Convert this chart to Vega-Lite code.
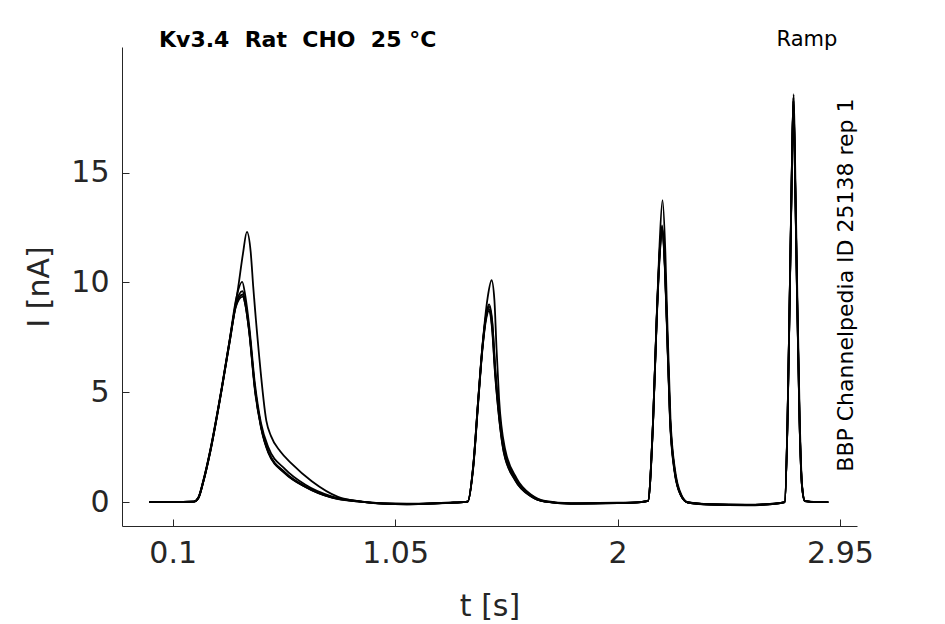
{
  "$schema": "https://vega.github.io/schema/vega-lite/v6.json",
  "width": 735,
  "height": 479,
  "autosize": {"type": "none"},
  "padding": {"left": 122, "top": 47, "right": 88, "bottom": 98},
  "background": "white",
  "config": {"view": {"stroke": null}, "font": "DejaVu Sans"},
  "data": {
    "values": [
      {"s": "a", "t": 0, "i": 0}, {"s": "a", "t": 0.1, "i": 0}, {"s": "a", "t": 0.19, "i": 0.02}, {"s": "a", "t": 0.21, "i": 0.2},
      {"s": "a", "t": 0.23, "i": 0.9}, {"s": "a", "t": 0.26, "i": 2.3}, {"s": "a", "t": 0.31, "i": 5.2}, {"s": "a", "t": 0.345, "i": 7.5},
      {"s": "a", "t": 0.38, "i": 9.8}, {"s": "a", "t": 0.4, "i": 11.3}, {"s": "a", "t": 0.417, "i": 12.3}, {"s": "a", "t": 0.433, "i": 11.4},
      {"s": "a", "t": 0.444, "i": 9.8}, {"s": "a", "t": 0.468, "i": 6.8}, {"s": "a", "t": 0.5, "i": 3.7}, {"s": "a", "t": 0.52, "i": 3.0},
      {"s": "a", "t": 0.56, "i": 2.3}, {"s": "a", "t": 0.608, "i": 1.75}, {"s": "a", "t": 0.694, "i": 0.95}, {"s": "a", "t": 0.806, "i": 0.24}, {"s": "a", "t": 0.9, "i": 0.03},
      {"s": "a", "t": 1.0, "i": -0.05}, {"s": "a", "t": 1.1, "i": -0.07}, {"s": "a", "t": 1.2, "i": -0.05}, {"s": "a", "t": 1.3, "i": -0.02},
      {"s": "a", "t": 1.36, "i": 0.02}, {"s": "a", "t": 1.384, "i": 1.7}, {"s": "a", "t": 1.405, "i": 4.7}, {"s": "a", "t": 1.422, "i": 7.0},
      {"s": "a", "t": 1.445, "i": 9.3}, {"s": "a", "t": 1.462, "i": 10.1}, {"s": "a", "t": 1.474, "i": 9.2}, {"s": "a", "t": 1.483, "i": 7.0},
      {"s": "a", "t": 1.494, "i": 4.7}, {"s": "a", "t": 1.519, "i": 2.44}, {"s": "a", "t": 1.569, "i": 1.08}, {"s": "a", "t": 1.633, "i": 0.32},
      {"s": "a", "t": 1.69, "i": 0.05}, {"s": "a", "t": 1.8, "i": -0.05}, {"s": "a", "t": 2.0, "i": -0.03}, {"s": "a", "t": 2.1, "i": 0},
      {"s": "a", "t": 2.13, "i": 0.05}, {"s": "a", "t": 2.152, "i": 3.8}, {"s": "a", "t": 2.167, "i": 8.4}, {"s": "a", "t": 2.178, "i": 11.4},
      {"s": "a", "t": 2.192, "i": 13.75}, {"s": "a", "t": 2.204, "i": 11.4}, {"s": "a", "t": 2.212, "i": 8.4}, {"s": "a", "t": 2.226, "i": 3.8},
      {"s": "a", "t": 2.245, "i": 1.5}, {"s": "a", "t": 2.273, "i": 0.32}, {"s": "a", "t": 2.3, "i": 0}, {"s": "a", "t": 2.4, "i": -0.1},
      {"s": "a", "t": 2.55, "i": -0.12}, {"s": "a", "t": 2.65, "i": -0.08}, {"s": "a", "t": 2.714, "i": 0}, {"s": "a", "t": 2.726, "i": 3.8},
      {"s": "a", "t": 2.736, "i": 9.9}, {"s": "a", "t": 2.743, "i": 14.4}, {"s": "a", "t": 2.752, "i": 18.57}, {"s": "a", "t": 2.76, "i": 14.4},
      {"s": "a", "t": 2.767, "i": 9.9}, {"s": "a", "t": 2.778, "i": 3.8}, {"s": "a", "t": 2.788, "i": 0.76}, {"s": "a", "t": 2.8, "i": 0.05},
      {"s": "a", "t": 2.85, "i": 0}, {"s": "a", "t": 2.9, "i": 0},

      {"s": "b", "t": 0, "i": 0}, {"s": "b", "t": 0.1, "i": 0}, {"s": "b", "t": 0.19, "i": 0.02}, {"s": "b", "t": 0.21, "i": 0.22},
      {"s": "b", "t": 0.23, "i": 0.95}, {"s": "b", "t": 0.26, "i": 2.35}, {"s": "b", "t": 0.31, "i": 5.25}, {"s": "b", "t": 0.345, "i": 7.5},
      {"s": "b", "t": 0.37, "i": 9.2}, {"s": "b", "t": 0.397, "i": 10.03}, {"s": "b", "t": 0.41, "i": 9.4}, {"s": "b", "t": 0.426, "i": 8.1},
      {"s": "b", "t": 0.451, "i": 5.4}, {"s": "b", "t": 0.477, "i": 3.6}, {"s": "b", "t": 0.508, "i": 2.5}, {"s": "b", "t": 0.58, "i": 1.5},
      {"s": "b", "t": 0.665, "i": 0.8}, {"s": "b", "t": 0.779, "i": 0.26}, {"s": "b", "t": 0.9, "i": 0.03}, {"s": "b", "t": 1.0, "i": -0.08},
      {"s": "b", "t": 1.1, "i": -0.1}, {"s": "b", "t": 1.2, "i": -0.08}, {"s": "b", "t": 1.3, "i": -0.03}, {"s": "b", "t": 1.36, "i": 0.02},
      {"s": "b", "t": 1.384, "i": 1.7}, {"s": "b", "t": 1.405, "i": 4.7}, {"s": "b", "t": 1.422, "i": 7.0}, {"s": "b", "t": 1.44, "i": 8.6},
      {"s": "b", "t": 1.451, "i": 9.0}, {"s": "b", "t": 1.465, "i": 8.2}, {"s": "b", "t": 1.478, "i": 6.0}, {"s": "b", "t": 1.49, "i": 4.5},
      {"s": "b", "t": 1.515, "i": 2.4}, {"s": "b", "t": 1.565, "i": 1.05}, {"s": "b", "t": 1.63, "i": 0.3}, {"s": "b", "t": 1.69, "i": 0.03},
      {"s": "b", "t": 1.8, "i": -0.08}, {"s": "b", "t": 2.0, "i": -0.05}, {"s": "b", "t": 2.1, "i": 0}, {"s": "b", "t": 2.13, "i": 0.05},
      {"s": "b", "t": 2.152, "i": 3.8}, {"s": "b", "t": 2.167, "i": 8.3}, {"s": "b", "t": 2.18, "i": 11.5}, {"s": "b", "t": 2.19, "i": 12.6},
      {"s": "b", "t": 2.2, "i": 11.3}, {"s": "b", "t": 2.21, "i": 8.4}, {"s": "b", "t": 2.224, "i": 3.9}, {"s": "b", "t": 2.243, "i": 1.5},
      {"s": "b", "t": 2.271, "i": 0.3}, {"s": "b", "t": 2.3, "i": -0.02}, {"s": "b", "t": 2.4, "i": -0.12}, {"s": "b", "t": 2.55, "i": -0.15},
      {"s": "b", "t": 2.65, "i": -0.1}, {"s": "b", "t": 2.714, "i": 0}, {"s": "b", "t": 2.726, "i": 3.8}, {"s": "b", "t": 2.736, "i": 9.9},
      {"s": "b", "t": 2.743, "i": 14.3}, {"s": "b", "t": 2.751, "i": 18.4}, {"s": "b", "t": 2.759, "i": 14.3}, {"s": "b", "t": 2.766, "i": 9.9},
      {"s": "b", "t": 2.777, "i": 3.8}, {"s": "b", "t": 2.788, "i": 0.7}, {"s": "b", "t": 2.8, "i": 0.04}, {"s": "b", "t": 2.85, "i": 0},
      {"s": "b", "t": 2.9, "i": 0},

      {"s": "c", "t": 0, "i": 0}, {"s": "c", "t": 0.1, "i": 0}, {"s": "c", "t": 0.19, "i": 0.02}, {"s": "c", "t": 0.21, "i": 0.2},
      {"s": "c", "t": 0.23, "i": 0.92}, {"s": "c", "t": 0.26, "i": 2.3}, {"s": "c", "t": 0.31, "i": 5.2}, {"s": "c", "t": 0.345, "i": 7.45},
      {"s": "c", "t": 0.37, "i": 9.0}, {"s": "c", "t": 0.398, "i": 9.6}, {"s": "c", "t": 0.41, "i": 9.1}, {"s": "c", "t": 0.426, "i": 7.9},
      {"s": "c", "t": 0.451, "i": 5.2}, {"s": "c", "t": 0.477, "i": 3.45}, {"s": "c", "t": 0.508, "i": 2.3}, {"s": "c", "t": 0.58, "i": 1.35},
      {"s": "c", "t": 0.665, "i": 0.72}, {"s": "c", "t": 0.779, "i": 0.22}, {"s": "c", "t": 0.9, "i": 0.02}, {"s": "c", "t": 1.0, "i": -0.07},
      {"s": "c", "t": 1.1, "i": -0.09}, {"s": "c", "t": 1.2, "i": -0.07}, {"s": "c", "t": 1.3, "i": -0.03}, {"s": "c", "t": 1.36, "i": 0.02},
      {"s": "c", "t": 1.384, "i": 1.65}, {"s": "c", "t": 1.405, "i": 4.6}, {"s": "c", "t": 1.422, "i": 6.9}, {"s": "c", "t": 1.44, "i": 8.5},
      {"s": "c", "t": 1.45, "i": 8.8}, {"s": "c", "t": 1.464, "i": 8.0}, {"s": "c", "t": 1.477, "i": 5.9}, {"s": "c", "t": 1.489, "i": 4.4},
      {"s": "c", "t": 1.514, "i": 2.3}, {"s": "c", "t": 1.563, "i": 1.0}, {"s": "c", "t": 1.628, "i": 0.28}, {"s": "c", "t": 1.69, "i": 0.02},
      {"s": "c", "t": 1.8, "i": -0.07}, {"s": "c", "t": 2.0, "i": -0.04}, {"s": "c", "t": 2.1, "i": 0}, {"s": "c", "t": 2.13, "i": 0.05},
      {"s": "c", "t": 2.152, "i": 3.75}, {"s": "c", "t": 2.167, "i": 8.3}, {"s": "c", "t": 2.18, "i": 11.3}, {"s": "c", "t": 2.19, "i": 12.45},
      {"s": "c", "t": 2.2, "i": 11.2}, {"s": "c", "t": 2.21, "i": 8.3}, {"s": "c", "t": 2.224, "i": 3.8}, {"s": "c", "t": 2.243, "i": 1.45},
      {"s": "c", "t": 2.271, "i": 0.3}, {"s": "c", "t": 2.3, "i": -0.02}, {"s": "c", "t": 2.4, "i": -0.11}, {"s": "c", "t": 2.55, "i": -0.14},
      {"s": "c", "t": 2.65, "i": -0.09}, {"s": "c", "t": 2.714, "i": 0}, {"s": "c", "t": 2.726, "i": 3.75}, {"s": "c", "t": 2.736, "i": 9.8},
      {"s": "c", "t": 2.743, "i": 14.2}, {"s": "c", "t": 2.751, "i": 18.3}, {"s": "c", "t": 2.759, "i": 14.2}, {"s": "c", "t": 2.766, "i": 9.8},
      {"s": "c", "t": 2.777, "i": 3.75}, {"s": "c", "t": 2.788, "i": 0.7}, {"s": "c", "t": 2.8, "i": 0.04}, {"s": "c", "t": 2.85, "i": 0},
      {"s": "c", "t": 2.9, "i": 0},

      {"s": "d", "t": 0, "i": 0}, {"s": "d", "t": 0.1, "i": 0}, {"s": "d", "t": 0.19, "i": 0.02}, {"s": "d", "t": 0.21, "i": 0.18},
      {"s": "d", "t": 0.23, "i": 0.88}, {"s": "d", "t": 0.26, "i": 2.25}, {"s": "d", "t": 0.31, "i": 5.15}, {"s": "d", "t": 0.345, "i": 7.4},
      {"s": "d", "t": 0.37, "i": 8.95}, {"s": "d", "t": 0.398, "i": 9.45}, {"s": "d", "t": 0.41, "i": 9.0}, {"s": "d", "t": 0.426, "i": 7.8},
      {"s": "d", "t": 0.451, "i": 5.1}, {"s": "d", "t": 0.477, "i": 3.4}, {"s": "d", "t": 0.508, "i": 2.25}, {"s": "d", "t": 0.58, "i": 1.3},
      {"s": "d", "t": 0.665, "i": 0.7}, {"s": "d", "t": 0.779, "i": 0.2}, {"s": "d", "t": 0.9, "i": 0.02}, {"s": "d", "t": 1.0, "i": -0.06},
      {"s": "d", "t": 1.1, "i": -0.09}, {"s": "d", "t": 1.2, "i": -0.06}, {"s": "d", "t": 1.3, "i": -0.02}, {"s": "d", "t": 1.36, "i": 0.02},
      {"s": "d", "t": 1.384, "i": 1.6}, {"s": "d", "t": 1.405, "i": 4.55}, {"s": "d", "t": 1.422, "i": 6.85}, {"s": "d", "t": 1.44, "i": 8.4},
      {"s": "d", "t": 1.45, "i": 8.7}, {"s": "d", "t": 1.464, "i": 7.9}, {"s": "d", "t": 1.477, "i": 5.8}, {"s": "d", "t": 1.489, "i": 4.35},
      {"s": "d", "t": 1.514, "i": 2.25}, {"s": "d", "t": 1.563, "i": 0.98}, {"s": "d", "t": 1.628, "i": 0.27}, {"s": "d", "t": 1.69, "i": 0.02},
      {"s": "d", "t": 1.8, "i": -0.06}, {"s": "d", "t": 2.0, "i": -0.04}, {"s": "d", "t": 2.1, "i": 0}, {"s": "d", "t": 2.13, "i": 0.05},
      {"s": "d", "t": 2.152, "i": 3.7}, {"s": "d", "t": 2.167, "i": 8.2}, {"s": "d", "t": 2.18, "i": 11.2}, {"s": "d", "t": 2.19, "i": 12.35},
      {"s": "d", "t": 2.2, "i": 11.1}, {"s": "d", "t": 2.21, "i": 8.2}, {"s": "d", "t": 2.224, "i": 3.7}, {"s": "d", "t": 2.243, "i": 1.4},
      {"s": "d", "t": 2.271, "i": 0.28}, {"s": "d", "t": 2.3, "i": -0.02}, {"s": "d", "t": 2.4, "i": -0.1}, {"s": "d", "t": 2.55, "i": -0.13},
      {"s": "d", "t": 2.65, "i": -0.09}, {"s": "d", "t": 2.714, "i": 0}, {"s": "d", "t": 2.726, "i": 3.7}, {"s": "d", "t": 2.736, "i": 9.7},
      {"s": "d", "t": 2.743, "i": 14.1}, {"s": "d", "t": 2.751, "i": 18.25}, {"s": "d", "t": 2.759, "i": 14.1}, {"s": "d", "t": 2.766, "i": 9.7},
      {"s": "d", "t": 2.777, "i": 3.7}, {"s": "d", "t": 2.788, "i": 0.68}, {"s": "d", "t": 2.8, "i": 0.04}, {"s": "d", "t": 2.85, "i": 0},
      {"s": "d", "t": 2.9, "i": 0},

      {"s": "e", "t": 0, "i": 0}, {"s": "e", "t": 0.1, "i": 0}, {"s": "e", "t": 0.19, "i": 0.02}, {"s": "e", "t": 0.21, "i": 0.2},
      {"s": "e", "t": 0.23, "i": 0.9}, {"s": "e", "t": 0.26, "i": 2.28}, {"s": "e", "t": 0.31, "i": 5.2}, {"s": "e", "t": 0.345, "i": 7.4},
      {"s": "e", "t": 0.37, "i": 8.9}, {"s": "e", "t": 0.399, "i": 9.35}, {"s": "e", "t": 0.411, "i": 8.95}, {"s": "e", "t": 0.427, "i": 7.75},
      {"s": "e", "t": 0.452, "i": 5.1}, {"s": "e", "t": 0.478, "i": 3.4}, {"s": "e", "t": 0.51, "i": 2.25}, {"s": "e", "t": 0.58, "i": 1.32},
      {"s": "e", "t": 0.665, "i": 0.7}, {"s": "e", "t": 0.779, "i": 0.21}, {"s": "e", "t": 0.9, "i": 0.02}, {"s": "e", "t": 1.0, "i": -0.07},
      {"s": "e", "t": 1.1, "i": -0.1}, {"s": "e", "t": 1.2, "i": -0.07}, {"s": "e", "t": 1.3, "i": -0.03}, {"s": "e", "t": 1.36, "i": 0.02},
      {"s": "e", "t": 1.384, "i": 1.68}, {"s": "e", "t": 1.405, "i": 4.65}, {"s": "e", "t": 1.422, "i": 6.95}, {"s": "e", "t": 1.44, "i": 8.55},
      {"s": "e", "t": 1.451, "i": 8.9}, {"s": "e", "t": 1.465, "i": 8.1}, {"s": "e", "t": 1.478, "i": 5.95}, {"s": "e", "t": 1.49, "i": 4.45},
      {"s": "e", "t": 1.515, "i": 2.35}, {"s": "e", "t": 1.565, "i": 1.02}, {"s": "e", "t": 1.63, "i": 0.29}, {"s": "e", "t": 1.69, "i": 0.02},
      {"s": "e", "t": 1.8, "i": -0.07}, {"s": "e", "t": 2.0, "i": -0.05}, {"s": "e", "t": 2.1, "i": 0}, {"s": "e", "t": 2.13, "i": 0.05},
      {"s": "e", "t": 2.152, "i": 3.8}, {"s": "e", "t": 2.167, "i": 8.35}, {"s": "e", "t": 2.18, "i": 11.4}, {"s": "e", "t": 2.19, "i": 12.5},
      {"s": "e", "t": 2.2, "i": 11.25}, {"s": "e", "t": 2.21, "i": 8.35}, {"s": "e", "t": 2.224, "i": 3.85}, {"s": "e", "t": 2.243, "i": 1.5},
      {"s": "e", "t": 2.271, "i": 0.3}, {"s": "e", "t": 2.3, "i": -0.02}, {"s": "e", "t": 2.4, "i": -0.11}, {"s": "e", "t": 2.55, "i": -0.14},
      {"s": "e", "t": 2.65, "i": -0.1}, {"s": "e", "t": 2.714, "i": 0}, {"s": "e", "t": 2.726, "i": 3.8}, {"s": "e", "t": 2.736, "i": 9.85},
      {"s": "e", "t": 2.743, "i": 14.3}, {"s": "e", "t": 2.751, "i": 18.45}, {"s": "e", "t": 2.759, "i": 14.3}, {"s": "e", "t": 2.766, "i": 9.85},
      {"s": "e", "t": 2.777, "i": 3.8}, {"s": "e", "t": 2.788, "i": 0.7}, {"s": "e", "t": 2.8, "i": 0.04}, {"s": "e", "t": 2.85, "i": 0},
      {"s": "e", "t": 2.9, "i": 0}
    ]
  },
  "layer": [
    {
      "mark": {"type": "line", "stroke": "black", "strokeWidth": 1.8, "interpolate": "monotone"},
      "encoding": {
        "x": {
          "field": "t",
          "type": "quantitative",
          "scale": {"domain": [-0.1165, 3.0226], "nice": false, "zero": false},
          "axis": {
            "title": "t [s]",
            "values": [0.1, 1.05, 2, 2.95],
            "labelExpr": "toString(datum.value)",
            "grid": false,
            "tickSize": -7,
            "labelPadding": 19,
            "labelFont": "DejaVu Sans",
            "labelFontSize": 30,
            "labelColor": "#262626",
            "labelFlush": false,
            "labelOverlap": false,
            "titleFont": "DejaVu Sans",
            "titleFontSize": 30,
            "titleFontWeight": "normal",
            "titleColor": "#262626",
            "titlePadding": 23,
            "domainColor": "#262626",
            "tickColor": "#262626"
          }
        },
        "y": {
          "field": "i",
          "type": "quantitative",
          "scale": {"domain": [-1.09, 20.72], "nice": false, "zero": false},
          "axis": {
            "title": "I [nA]",
            "values": [0, 5, 10, 15],
            "format": "d",
            "grid": false,
            "tickSize": -7,
            "labelPadding": 20,
            "labelFont": "DejaVu Sans",
            "labelFontSize": 30,
            "labelColor": "#262626",
            "labelFlush": false,
            "labelOverlap": false,
            "titleFont": "DejaVu Sans",
            "titleFontSize": 30,
            "titleFontWeight": "normal",
            "titleColor": "#262626",
            "titlePadding": 16,
            "domainColor": "#262626",
            "tickColor": "#262626"
          }
        },
        "detail": {"field": "s", "type": "nominal"},
        "order": {"field": "t", "type": "quantitative"}
      }
    },
    {
      "data": {"values": [{"label": "Kv3.4\u00a0\u00a0Rat\u00a0\u00a0CHO\u00a0\u00a025\u00a0°C"}]},
      "mark": {"type": "text", "font": "DejaVu Sans", "fontSize": 22, "fontWeight": "bold", "color": "black", "align": "left", "baseline": "alphabetic"},
      "encoding": {
        "x": {"datum": 0.0415, "type": "quantitative"},
        "y": {"datum": 20.72, "type": "quantitative"},
        "text": {"field": "label"}
      }
    },
    {
      "data": {"values": [{"label": "Ramp"}]},
      "mark": {"type": "text", "font": "DejaVu Sans", "fontSize": 21, "color": "black", "align": "center", "baseline": "alphabetic"},
      "encoding": {
        "x": {"datum": 2.809, "type": "quantitative"},
        "y": {"datum": 20.77, "type": "quantitative"},
        "text": {"field": "label"}
      }
    },
    {
      "data": {"values": [{"label": "BBP Channelpedia ID 25138 rep 1"}]},
      "mark": {"type": "text", "font": "DejaVu Sans", "fontSize": 22, "color": "black", "align": "center", "baseline": "alphabetic", "angle": 270},
      "encoding": {
        "x": {"datum": 3.006, "type": "quantitative"},
        "y": {"datum": 9.88, "type": "quantitative"},
        "text": {"field": "label"}
      }
    }
  ]
}
